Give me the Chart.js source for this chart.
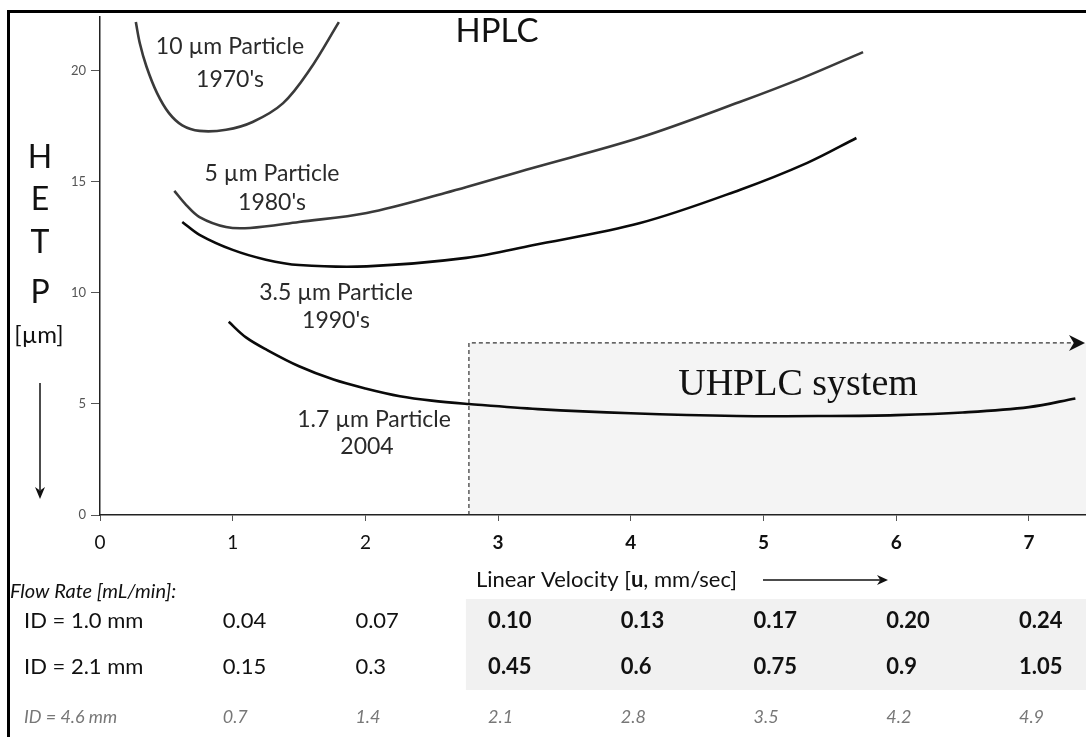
<!DOCTYPE html>
<html>
<head>
<meta charset="utf-8">
<script src="https://cdn.jsdelivr.net/npm/chart.js@4.4.0/dist/chart.umd.min.js"></script>
<style>
  html, body { margin: 0; padding: 0; background: #fff; }
  canvas { display: block; }
</style>
</head>
<body>
<canvas id="chart" width="1086" height="737"></canvas>
<script>
// HETP [um] against linear velocity [mm/sec], one curve per particle size
const curve10um = [[0.27,22.2],[0.30,21.25],[0.35,20.2],[0.43,19.0],[0.52,18.1],[0.62,17.55],[0.75,17.3],[0.95,17.35],[1.15,17.7],[1.38,18.55],[1.58,20.05],[1.80,22.2]];
const curve5um = [[0.56,14.6],[0.65,13.96],[0.75,13.42],[0.95,12.97],[1.13,12.93],[1.5,13.2],[2.01,13.6],[2.6,14.5],[3.26,15.63],[4.07,17.0],[4.82,18.6],[5.3,19.7],[5.75,20.85]];
const curve35um = [[0.62,13.2],[0.75,12.62],[1.0,11.94],[1.25,11.5],[1.5,11.26],[2.01,11.2],[2.76,11.58],[3.26,12.15],[4.07,13.15],[4.82,14.64],[5.33,15.86],[5.70,16.98]];
const curve17um = [[0.97,8.7],[1.1,8.0],[1.26,7.43],[1.5,6.7],[1.76,6.1],[2.0,5.7],[2.26,5.35],[2.5,5.15],[2.78,5.0],[3.3,4.77],[4.0,4.58],[4.8,4.46],[5.5,4.46],[6.0,4.5],[6.5,4.62],[7.0,4.86],[7.35,5.25]];

const curveLabels = [["10 \u00b5m Particle", "1970's"], ["5 \u00b5m Particle", "1980's"], ["3.5 \u00b5m Particle", "1990's"], ["1.7 \u00b5m Particle", "2004"]];

// flow rate table under the axis
const velocities = [1, 2, 3, 4, 5, 6, 7];
const rowLabels = ["ID = 1.0 mm", "ID = 2.1 mm", "ID = 4.6 mm"];
const flowId10 = ["0.04", "0.07", "0.10", "0.13", "0.17", "0.20", "0.24"];
const flowId21 = ["0.15", "0.3", "0.45", "0.6", "0.75", "0.9", "1.05"];
const flowId46 = ["0.7", "1.4", "2.1", "2.8", "3.5", "4.2", "4.9"];

const xTicks = [0, 1, 2, 3, 4, 5, 6, 7];
const yTicks = [0, 5, 10, 15, 20];
const X_MAX = 7.43;
const Y_MAX = 22.43;
const UHPLC_FROM = 2.78;   // velocity where the UHPLC region starts
const UHPLC_TOP = 7.75;

const FONT = 'Lato, "Noto Sans", sans-serif';

function toPoints(arr) {
    return arr.map(p => ({ x: p[0], y: p[1] }));
}

function txt(ctx, s, x, y, font, color, align, base) {
    ctx.font = font;
    ctx.fillStyle = color;
    ctx.textAlign = align || 'center';
    ctx.textBaseline = base || 'middle';
    ctx.fillText(s, x, y);
}

function arrowHead(ctx, x, y, dir, len, half) {
    ctx.beginPath();
    if (dir === 'right') {
        ctx.moveTo(x, y);
        ctx.lineTo(x - len, y - half);
        ctx.lineTo(x - len * 0.7, y);
        ctx.lineTo(x - len, y + half);
    } else {
        ctx.moveTo(x, y);
        ctx.lineTo(x - half, y - len);
        ctx.lineTo(x, y - len * 0.7);
        ctx.lineTo(x + half, y - len);
    }
    ctx.closePath();
    ctx.fill();
}

const decor = {
    id: 'decor',
    beforeDraw(chart) {
        const { ctx, chartArea, scales: { x, y } } = chart;
        ctx.save();
        ctx.fillStyle = '#fff';
        ctx.fillRect(0, 0, chart.width, chart.height);
        const bx = x.getPixelForValue(UHPLC_FROM);
        const by = y.getPixelForValue(UHPLC_TOP);
        ctx.fillStyle = '#f4f4f4';
        ctx.fillRect(bx, by, chart.width - bx, chartArea.bottom - by);
        // shaded part of the table
        ctx.fillStyle = '#f1f1f1';
        ctx.fillRect(bx - 3, 599, chart.width - bx + 3, 91);
        ctx.restore();
    },
    afterDraw(chart) {
        const { ctx, chartArea, scales: { x, y } } = chart;
        ctx.save();

        // UHPLC dashed outline + arrow
        const bx = x.getPixelForValue(UHPLC_FROM);
        const by = y.getPixelForValue(UHPLC_TOP);
        ctx.strokeStyle = '#333';
        ctx.lineWidth = 1.2;
        ctx.setLineDash([4, 3]);
        ctx.beginPath();
        ctx.moveTo(bx, chartArea.bottom);
        ctx.lineTo(bx, by);
        ctx.lineTo(chart.width - 10, by);
        ctx.stroke();
        ctx.setLineDash([]);
        ctx.fillStyle = '#111';
        arrowHead(ctx, chart.width - 1, by, 'right', 16, 8);
        txt(ctx, 'UHPLC system', 798, 395, '38px "Liberation Serif", serif', '#111', 'center', 'alphabetic');

        txt(ctx, 'HPLC', 497, 31, '33px ' + FONT, '#111');

        // curve captions
        const lf = '23px ' + FONT;
        const lc = '#2a2a2a';
        txt(ctx, curveLabels[0][0], 230, 47, lf, lc);
        txt(ctx, curveLabels[0][1], 230, 80, lf, lc);
        txt(ctx, curveLabels[1][0], 272, 174, lf, lc);
        txt(ctx, curveLabels[1][1], 272, 203, lf, lc);
        txt(ctx, curveLabels[2][0], 336, 293, lf, lc);
        txt(ctx, curveLabels[2][1], 336, 321, lf, lc);
        txt(ctx, curveLabels[3][0], 374, 420, lf, lc);
        txt(ctx, curveLabels[3][1], 367, 447, lf, lc);

        // y title stacked
        const yf = '32px ' + FONT;
        txt(ctx, 'H', 40, 158, yf, '#111');
        txt(ctx, 'E', 40, 200, yf, '#111');
        txt(ctx, 'T', 40, 243, yf, '#111');
        txt(ctx, 'P', 40, 293, yf, '#111');
        txt(ctx, '[\u00b5m]', 39, 335, '24px ' + FONT, '#111');
        ctx.strokeStyle = '#111';
        ctx.lineWidth = 1.5;
        ctx.beginPath();
        ctx.moveTo(40, 383);
        ctx.lineTo(40, 490);
        ctx.stroke();
        arrowHead(ctx, 40, 499, 'down', 12, 5);

        // x title, right end fixed, bold u
        const xf = '22px ' + FONT;
        const xfb = 'bold 22px ' + FONT;
        const a = 'Linear Velocity [';
        const b = 'u';
        const c = ', mm/sec]';
        ctx.font = xf;
        const wa = ctx.measureText(a).width, wc = ctx.measureText(c).width;
        ctx.font = xfb;
        const wb = ctx.measureText(b).width;
        const tx = 737 - wa - wb - wc;
        txt(ctx, a, tx, 580, xf, '#111', 'left');
        txt(ctx, b, tx + wa, 580, xfb, '#111', 'left');
        txt(ctx, c, tx + wa + wb, 580, xf, '#111', 'left');
        ctx.beginPath();
        ctx.moveTo(763, 580);
        ctx.lineTo(880, 580);
        ctx.stroke();
        arrowHead(ctx, 888, 580, 'right', 11, 5);

        // table
        txt(ctx, 'Flow Rate [mL/min]:', 10, 592, 'italic 20px ' + FONT, '#111', 'left');
        const rowsY = [621, 667, 717];
        const rowVals = [flowId10, flowId21, flowId46];
        for (let r = 0; r < 3; r++) {
            const faint = r === 2;
            txt(ctx, rowLabels[r], 24, rowsY[r], (faint ? 'italic 18px ' : '22px ') + FONT, faint ? '#777' : '#111', 'left');
            for (let i = 0; i < velocities.length; i++) {
                const px = x.getPixelForValue(velocities[i]) - 10;
                let f;
                if (faint) f = 'italic 18px ' + FONT;
                else if (velocities[i] > UHPLC_FROM) f = 'bold 22px ' + FONT;
                else f = '22px ' + FONT;
                txt(ctx, rowVals[r][i], px, rowsY[r], f, faint ? '#777' : '#111', 'left');
            }
        }

        // frame on the top and left edges
        ctx.fillStyle = '#000';
        ctx.fillRect(7, 10, chart.width - 7, 3);
        ctx.fillRect(7, 10, 3, chart.height - 10);
        ctx.restore();
    }
};

function lineSet(label, pts, color) {
    return {
        label: label,
        data: toPoints(pts),
        borderColor: color,
        borderWidth: 2.6,
        pointRadius: 0,
        tension: 0.35,
        fill: false
    };
}

const ctx = document.getElementById('chart');
const chart = new Chart(ctx, {
    type: 'line',
    data: {
        datasets: [
            lineSet('10 \u00b5m', curve10um, '#3a3a3a'),
            lineSet('5 \u00b5m', curve5um, '#3a3a3a'),
            lineSet('3.5 \u00b5m', curve35um, '#0a0a0a'),
            lineSet('1.7 \u00b5m', curve17um, '#0a0a0a')
        ]
    },
    options: {
        responsive: false,
        animation: false,
        events: [],
        layout: { padding: { left: 0, top: 17, right: 0, bottom: 182 } },
        plugins: {
            legend: { display: false },
            tooltip: { enabled: false },
            title: { display: false }
        },
        scales: {
            x: {
                type: 'linear',
                min: 0,
                max: X_MAX,
                afterBuildTicks: s => { s.ticks = xTicks.map(v => ({ value: v })); },
                afterFit: s => { s.height = 40; },
                ticks: {
                    padding: 10,
                    color: '#111',
                    font: c => ({ family: FONT, size: 19, weight: (c.tick && c.tick.value > UHPLC_FROM) ? 'bold' : 'normal' })
                },
                grid: { drawOnChartArea: false, tickLength: 6, color: '#555', lineWidth: 1 },
                border: { color: '#222', width: 1.5 }
            },
            y: {
                type: 'linear',
                min: 0,
                max: Y_MAX,
                afterBuildTicks: s => { s.ticks = yTicks.map(v => ({ value: v })); },
                afterFit: s => { s.width = 100; },
                ticks: {
                    padding: 5,
                    color: '#555',
                    font: { family: FONT, size: 13 }
                },
                grid: { drawOnChartArea: false, tickLength: 9, color: '#555', lineWidth: 1 },
                border: { color: '#222', width: 1.5 }
            }
        }
    },
    plugins: [decor]
});
</script>
</body>
</html>
